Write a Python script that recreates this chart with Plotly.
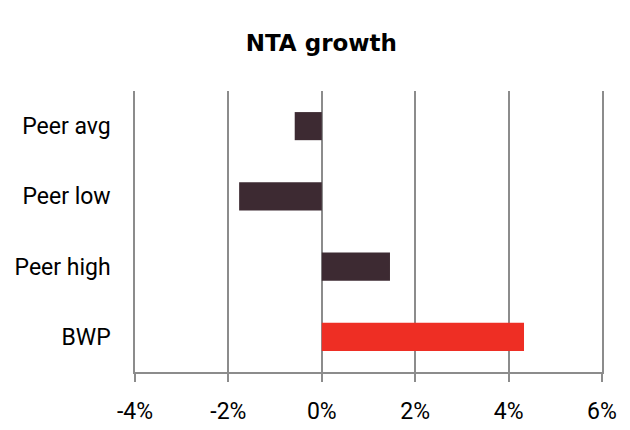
import plotly.graph_objects as go

# NTA growth by group, in percent
categories = ["Peer avg", "Peer low", "Peer high", "BWP"]
growth_pct = [-0.58, -1.77, 1.46, 4.33]
bar_colors = ["#3d2a32", "#3d2a32", "#3d2a32", "#ee2e24"]
x_ticks = [-4, -2, 0, 2, 4, 6]
x_tick_labels = ["-4%", "-2%", "0%", "2%", "4%", "6%"]

grid_grey = "#8c8c8c"
label_font = "Roboto, sans-serif"
title_font = "DejaVu Sans, Verdana, sans-serif"

fig = go.Figure()
fig.add_trace(go.Bar(
    y=categories,
    x=growth_pct,
    orientation="h",
    marker=dict(color=bar_colors, line=dict(width=0)),
    width=0.4,
    hoverinfo="skip",
))

fig.update_layout(
    width=630,
    height=430,
    margin=dict(l=135, r=28, t=91, b=58, autoexpand=False),
    paper_bgcolor="white",
    plot_bgcolor="white",
    showlegend=False,
    font=dict(family=label_font, size=23, color="black"),
    title=dict(
        text="<b>NTA growth</b>",
        x=0.51,
        xanchor="center",
        xref="container",
        y=1 - 43 / 430,
        yref="container",
        yanchor="middle",
        font=dict(family=title_font, size=23, color="black"),
    ),
    xaxis=dict(
        range=[-4, 6],
        tickvals=x_ticks,
        ticktext=x_tick_labels,
        showgrid=True,
        gridcolor=grid_grey,
        gridwidth=1.5,
        zeroline=True,
        zerolinecolor=grid_grey,
        zerolinewidth=1.5,
        showline=True,
        linecolor=grid_grey,
        linewidth=1.5,
        ticks="outside",
        ticklen=8,
        tickwidth=1.5,
        tickcolor=grid_grey,
        ticklabelstandoff=10,
        automargin=False,
        fixedrange=True,
    ),
    yaxis=dict(
        type="category",
        autorange="reversed",
        showgrid=False,
        zeroline=False,
        showline=True,
        mirror=True,
        linecolor=grid_grey,
        linewidth=1.5,
        ticks="",
        ticklabelstandoff=18,
        automargin=False,
        fixedrange=True,
    ),
    # category boundary ticks sitting on the zero line
    yaxis2=dict(
        overlaying="y",
        anchor="free",
        position=0.4,
        range=[3.5, -0.5],
        tickvals=[-0.5, 0.5, 1.5, 2.5, 3.5],
        showticklabels=False,
        showgrid=False,
        zeroline=False,
        showline=False,
        ticks="outside",
        ticklen=7,
        tickwidth=1.5,
        tickcolor=grid_grey,
        automargin=False,
        fixedrange=True,
    ),
)

fig.write_html("out.html")
